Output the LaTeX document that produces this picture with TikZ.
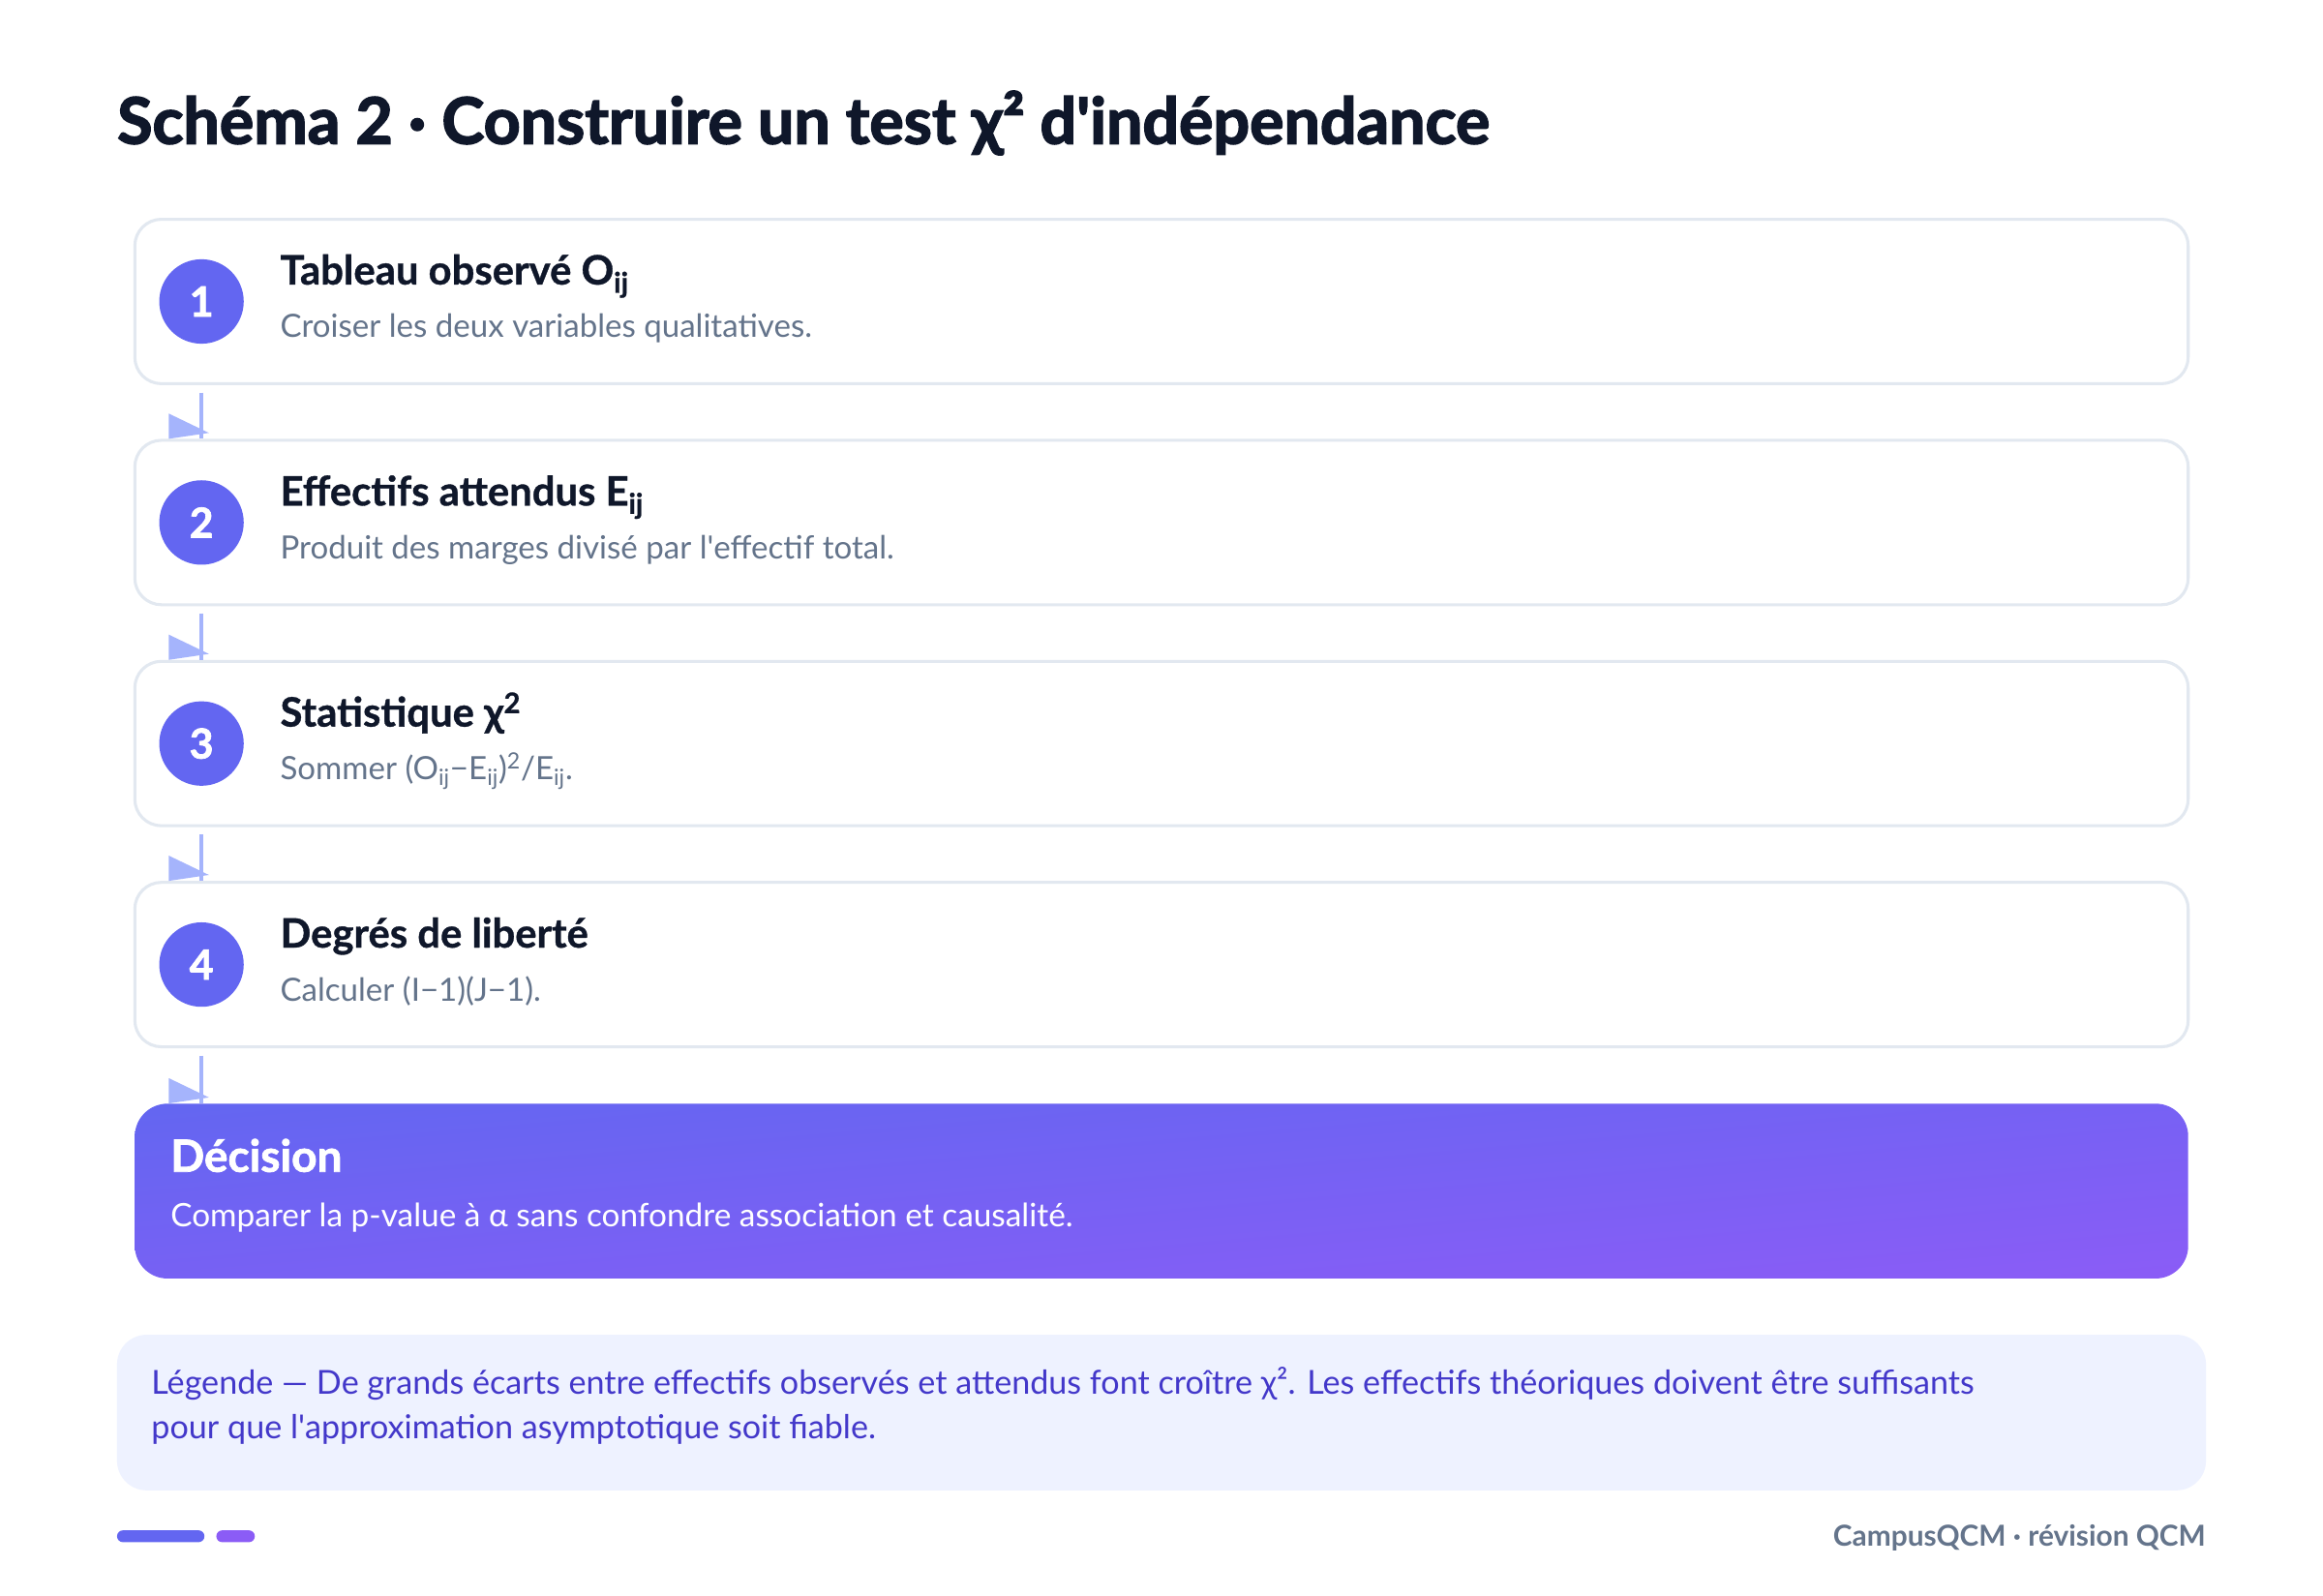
\documentclass[tikz,border=0pt]{standalone}
\usepackage{fontspec}
\setmainfont{Lato}
\newfontfamily\heavy{Lato}[BoldFeatures={FakeBold=1.6}]
\newfontfamily\heavier{Lato}[BoldFeatures={FakeBold=2.4}]
\newfontfamily\semi{Lato}[BoldFeatures={FakeBold=0.8}]
\definecolor{cnavy}{HTML}{0F172A}
\definecolor{cslate}{HTML}{64748B}
\definecolor{cborder}{HTML}{E2E8F0}
\definecolor{cindigo}{HTML}{6366F1}
\definecolor{cviolet}{HTML}{8B5CF6}
\definecolor{carrow}{HTML}{A5B4FC}
\definecolor{clegbg}{HTML}{EEF2FF}
\definecolor{clegtx}{HTML}{4338CA}
\pgfdeclarefunctionalshading{decgrad}{\pgfpointorigin}{\pgfpoint{100bp}{100bp}}{}{
  sub 50 add 100 div
  dup 0.157 mul 0.388 add exch
  dup -0.039 mul 0.4 add exch
  0.02 mul 0.945 add
}
\begin{document}
\begin{tikzpicture}[x=1pt,y=-1pt,
  stepbox/.style={draw=cborder, line width=2pt, fill=white, rounded corners=18pt, minimum width=1386pt, minimum height=111pt, inner sep=0pt},
  num/.style={circle, fill=cindigo, minimum size=57pt, inner sep=0pt, text=white, font=\heavy\fontsize{28}{30}\selectfont\bfseries},
  ttl/.style={anchor=base west, inner sep=0pt, text=cnavy, font=\semi\fontsize{27.3}{32}\selectfont\bfseries},
  subtx/.style={anchor=base west, inner sep=0pt, text=cslate, font=\fontsize{21.6}{25}\selectfont},
  conn/.style={draw=carrow, line width=3pt},
  headfill/.style={fill=carrow},
  legtx/.style={anchor=base west, inner sep=0pt, text=clegtx, font=\fontsize{22.3}{26}\selectfont},
]
\useasboundingbox (0,0) rectangle (1568,1077);
\fill[white] (0,0) rectangle (1568,1077);

% title
\node[anchor=base west, inner sep=0pt, text=cnavy, font=\heavier\fontsize{43.3}{48}\selectfont\bfseries] (title) at (79,97) {Schéma 2 · Construire un test χ² d\textquotesingle indépendance};

% steps
\node[stepbox] (b1) at (784,203.5) {};
\node[stepbox] (b2) at (784,352.7) {};
\node[stepbox] (b3) at (784,501.9) {};
\node[stepbox] (b4) at (784,651.1) {};

\node[num] (n1) at (136,203.5) {1};
\node[num] (n2) at (136,352.7) {2};
\node[num] (n3) at (136,501.9) {3};
\node[num] (n4) at (136,651.1) {4};

\node[ttl] (t1) at (189,192.0) {Tableau observé O\textsubscript{ij}};
\node[subtx] (s1) at (189,228.0) {Croiser les deux variables qualitatives.};
\node[ttl] (t2) at (189,341.2) {Effectifs attendus E\textsubscript{ij}};
\node[subtx] (s2) at (189,377.2) {Produit des marges divisé par l\textquotesingle effectif total.};
\node[ttl] (t3) at (189,490.4) {Statistique χ\textsuperscript{2}};
\node[subtx] (s3) at (189,526.4) {Sommer (O\textsubscript{ij}−E\textsubscript{ij})\textsuperscript{2}/E\textsubscript{ij}.};
\node[ttl] (t4) at (189,639.6) {Degrés de liberté};
\node[subtx] (s4) at (189,675.6) {Calculer (I−1)(J−1).};

% decision
\node[shade, shading=decgrad, rounded corners=22pt, minimum width=1386pt, minimum height=118pt, inner sep=0pt] (dec) at (784,804) {};
\node[anchor=base west, inner sep=0pt, text=white, font=\heavy\fontsize{30}{34}\selectfont\bfseries] (dect) at (115,791) {Décision};
\node[anchor=base west, inner sep=0pt, text=white, font=\fontsize{21.8}{25}\selectfont] (decs) at (115,828) {Comparer la p-value à α sans confondre association et causalité.};

% connectors
\foreach \a/\b in {b1/b2,b2/b3,b3/b4,b4/dec}{
  \draw[conn] (\a.south -| n1) ++(0,5) -- (\b.north -| n1);
  \fill[headfill] (\b.north -| n1) ++(-22,-17) -- ++(0,17) -- ++(27,-4) -- cycle;
}

% legend
\node[rounded corners=20pt, fill=clegbg, minimum width=1410pt, minimum height=105pt, inner sep=0pt] (leg) at (784,953.5) {};
\node[legtx] (l1) at (102,941) {Légende — De grands écarts entre effectifs observés et attendus font croître χ². Les effectifs théoriques doivent être suffisants};
\node[legtx] (l2) at (102,971) {pour que l\textquotesingle approximation asymptotique soit fiable.};

% bottom bars
\fill[cindigo, rounded corners=4pt] (79,1033) rectangle (138,1041);
\fill[cviolet, rounded corners=4pt] (146,1033) rectangle (172,1041);

% footer
\node[anchor=base east, inner sep=0pt, text=cslate, font=\fontsize{19.5}{23}\selectfont\bfseries] (foot) at (1489,1044) {CampusQCM · révision QCM};
\end{tikzpicture}
\end{document}
